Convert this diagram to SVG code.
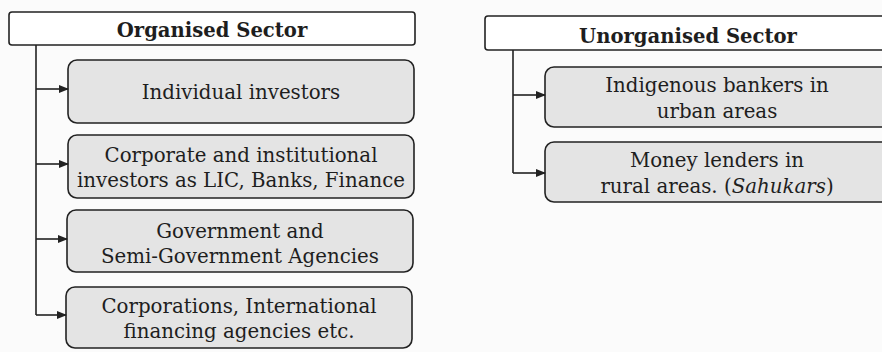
<svg xmlns="http://www.w3.org/2000/svg" width="882" height="352" viewBox="0 0 882 352">
<style>
.hdr{fill:#fff;stroke:#222;stroke-width:1.6}
.box{fill:#e4e4e4;stroke:#222;stroke-width:1.6}
.t{font-family:"DejaVu Serif","Liberation Serif",serif;font-size:19.8px;fill:#1e1e1e;text-anchor:middle}
.h{font-family:"DejaVu Serif","Liberation Serif",serif;font-size:19.6px;font-weight:bold;fill:#1e1e1e;text-anchor:middle}
.ln{fill:none;stroke:#222;stroke-width:1.6}
</style>
<defs>
<marker id="ar" markerWidth="10" markerHeight="8" refX="9" refY="4" orient="auto" markerUnits="userSpaceOnUse">
<path d="M0,0 L10,4 L0,8 Z" fill="#222"/>
</marker>
</defs>
<rect width="882" height="352" fill="#fbfbfb"/>
<g id="organised">
<rect class="hdr" x="9" y="12" width="406" height="33" rx="3"/>
<text class="h" x="212" y="37">Organised Sector</text>
</g>
<g id="individual">
<rect class="box" x="68" y="60" width="346" height="63" rx="9"/>
<text class="t" x="241" y="99">Individual investors</text>
</g>
<g id="corporate">
<rect class="box" x="68" y="135" width="346" height="63" rx="9"/>
<text class="t" x="241" y="162">Corporate and institutional</text>
<text class="t" x="241" y="187">investors as LIC, Banks, Finance</text>
</g>
<g id="government">
<rect class="box" x="67" y="210" width="346" height="62" rx="9"/>
<text class="t" x="240" y="238">Government and</text>
<text class="t" x="240" y="263">Semi-Government Agencies</text>
</g>
<g id="corporations">
<rect class="box" x="66" y="287" width="346" height="61" rx="9"/>
<text class="t" x="239" y="313">Corporations, International</text>
<text class="t" x="239" y="338">financing agencies etc.</text>
</g>
<g id="unorganised">
<rect class="hdr" x="485" y="16" width="410" height="34" rx="3"/>
<text class="h" x="688" y="43">Unorganised Sector</text>
</g>
<g id="indigenous">
<rect class="box" x="545" y="67" width="350" height="60" rx="9"/>
<text class="t" x="717" y="92">Indigenous bankers in</text>
<text class="t" x="717" y="118">urban areas</text>
</g>
<g id="moneylenders">
<rect class="box" x="545" y="142" width="350" height="60" rx="9"/>
<text class="t" x="717" y="167">Money lenders in</text>
<text class="t" x="717" y="193">rural areas. (<tspan font-style="italic">Sahukars</tspan>)</text>
</g>
<g id="connectors">
<path class="ln" d="M36,45 V315"/>
<path class="ln" d="M36,89 H68" marker-end="url(#ar)"/>
<path class="ln" d="M36,164 H68" marker-end="url(#ar)"/>
<path class="ln" d="M36,239 H67" marker-end="url(#ar)"/>
<path class="ln" d="M36,315 H66" marker-end="url(#ar)"/>
<path class="ln" d="M513,50 V173"/>
<path class="ln" d="M513,95 H545" marker-end="url(#ar)"/>
<path class="ln" d="M513,173 H545" marker-end="url(#ar)"/>
</g>
</svg>
